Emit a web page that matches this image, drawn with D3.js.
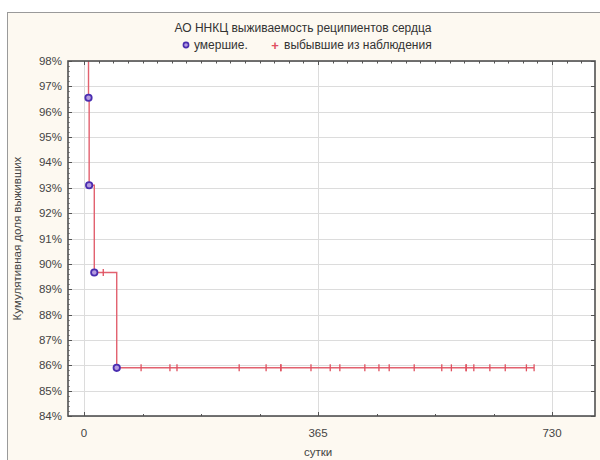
<!DOCTYPE html>
<html>
<head>
<meta charset="utf-8">
<script src="https://cdn.jsdelivr.net/npm/d3@7"></script>
<style>
  html, body { margin: 0; padding: 0; background: #ffffff; }
  svg { display: block; }
  text { font-family: "Liberation Sans", Arial, sans-serif; }
</style>
</head>
<body>
<script>
// Kaplan–Meier survival of heart transplant recipients
const deathDays = [7, 8, 16, 51];
const deathSurvival = [96.55, 93.10, 89.66, 85.9];
const censoredDays = [30, 89, 134, 145, 242, 284, 307, 307, 354, 384, 399, 438,
  460, 476, 515, 558, 573, 596, 596, 608, 633, 657, 690, 702];
const xTicks = [0, 365, 730];
const yTicks = [84, 85, 86, 87, 88, 89, 90, 91, 92, 93, 94, 95, 96, 97, 98];

const title = "АО ННКЦ выживаемость реципиентов сердца";
const legendDead = "умершие.";
const legendCensored = "выбывшие из наблюдения";
const xTitle = "сутки";
const yTitle = "Кумулятивная доля выживших";

const W = 600, H = 460;
const plot = { left: 68, right: 595, top: 61, bottom: 416 };

const svg = d3.select("body").append("svg").attr("width", W).attr("height", H);

// outer panel
svg.append("rect").attr("x", 7.5).attr("y", 12.5).attr("width", W).attr("height", H)
  .attr("fill", "#fdf9f1").attr("stroke", "#9a9a9a").attr("stroke-width", 1);

const x = d3.scaleLinear().domain([-25, 797]).range([plot.left, plot.right]);
const y = d3.scaleLinear().domain([84, 98]).range([plot.bottom, plot.top]);

svg.append("rect").attr("x", plot.left).attr("y", plot.top)
  .attr("width", plot.right - plot.left).attr("height", plot.bottom - plot.top)
  .attr("fill", "#ffffff");

// grid
const grid = svg.append("g").attr("stroke", "#dcdcdc").attr("stroke-width", 1);
grid.selectAll("line.h").data(yTicks).join("line")
  .attr("x1", plot.left).attr("x2", plot.right)
  .attr("y1", d => Math.round(y(d)) + 0.5).attr("y2", d => Math.round(y(d)) + 0.5);
grid.selectAll("line.v").data(xTicks).join("line")
  .attr("y1", plot.top).attr("y2", plot.bottom)
  .attr("x1", d => Math.round(x(d)) + 0.5).attr("x2", d => Math.round(x(d)) + 0.5);

// step curve built from events
const events = deathDays.map((d, i) => ({ t: d, s: deathSurvival[i] }));
function survAt(t) {
  let s = 100;
  events.forEach(e => { if (e.t <= t) s = e.s; });
  return s;
}
const lastDay = d3.max(censoredDays);
const stepPts = [{ t: 0, s: 100 }, ...events, { t: lastDay, s: survAt(lastDay) }];

svg.append("clipPath").attr("id", "clip").append("rect")
  .attr("x", plot.left).attr("y", plot.top)
  .attr("width", plot.right - plot.left).attr("height", plot.bottom - plot.top);

const g = svg.append("g").attr("clip-path", "url(#clip)");
const line = d3.line().x(d => x(d.t)).y(d => y(d.s)).curve(d3.curveStepAfter);
g.append("path").datum(stepPts).attr("d", line)
  .attr("fill", "none").attr("stroke", "#e2616f").attr("stroke-width", 1.4);

// censored marks
g.selectAll("line.cens").data(censoredDays).join("line")
  .attr("x1", d => x(d)).attr("x2", d => x(d))
  .attr("y1", d => y(survAt(d)) - 3.5).attr("y2", d => y(survAt(d)) + 3.5)
  .attr("stroke", "#e0505f").attr("stroke-width", 1.3);

// deaths
g.selectAll("circle.death").data(events).join("circle")
  .attr("cx", d => x(d.t)).attr("cy", d => y(d.s)).attr("r", 3.2)
  .attr("fill", "#b49be0").attr("stroke", "#4a2db0").attr("stroke-width", 1.8);

// axes
const axG = svg.append("g").attr("stroke", "#555").attr("stroke-width", 1);
// inward ticks on left / right
yTicks.forEach(v => {
  const yy = Math.round(y(v)) + 0.5;
  axG.append("line").attr("x1", plot.left).attr("x2", plot.left + 4).attr("y1", yy).attr("y2", yy);
  axG.append("line").attr("x1", plot.right - 4).attr("x2", plot.right).attr("y1", yy).attr("y2", yy);
});
d3.range(84, 98.01, 0.2).forEach(v => {
  const yy = Math.round(y(v)) + 0.5;
  axG.append("line").attr("x1", plot.left).attr("x2", plot.left + 2).attr("y1", yy).attr("y2", yy)
    .attr("stroke-width", 0.6);
});
// bottom ticks
d3.range(0, 797, 365 / 4).forEach((v, i) => {
  const xx = Math.round(x(v)) + 0.5;
  axG.append("line").attr("x1", xx).attr("x2", xx)
    .attr("y1", plot.bottom).attr("y2", plot.bottom - (i % 4 === 0 ? 4 : 2));
});
// top ticks
d3.range(0, 797, 365 / 16).forEach((v, i) => {
  const xx = Math.round(x(v)) + 0.5;
  axG.append("line").attr("x1", xx).attr("x2", xx)
    .attr("y1", plot.top).attr("y2", plot.top + (i % 16 === 0 ? 4 : 2.5));
});

svg.append("rect").attr("x", plot.left).attr("y", plot.top)
  .attr("width", plot.right - plot.left).attr("height", plot.bottom - plot.top)
  .attr("fill", "none").attr("stroke", "#505050").attr("stroke-width", 1.6);

// tick labels
svg.append("g").selectAll("text").data(yTicks).join("text")
  .attr("x", plot.left - 6).attr("y", d => y(d)).attr("dy", "0.35em")
  .attr("text-anchor", "end").attr("font-size", 11.5).attr("fill", "#444")
  .text(d => d + "%");
svg.append("g").selectAll("text").data(xTicks).join("text")
  .attr("x", d => x(d)).attr("y", 437)
  .attr("text-anchor", "middle").attr("font-size", 11.5).attr("fill", "#444")
  .text(d => d);

// titles
svg.append("text").attr("x", x(365)).attr("y", 456).attr("text-anchor", "middle")
  .attr("font-size", 11.5).attr("fill", "#444").text(xTitle);
svg.append("text").attr("transform", `translate(21,${(plot.top + plot.bottom) / 2}) rotate(-90)`)
  .attr("text-anchor", "middle").attr("font-size", 11.5).attr("fill", "#444").text(yTitle);
svg.append("text").attr("x", 303).attr("y", 32).attr("text-anchor", "middle")
  .attr("font-size", 12).attr("fill", "#333").text(title);

// legend
const lg = svg.append("g");
lg.append("circle").attr("cx", 186).attr("cy", 45).attr("r", 2.6)
  .attr("fill", "#b49be0").attr("stroke", "#4a2db0").attr("stroke-width", 1.6);
lg.append("text").attr("x", 194).attr("y", 49).attr("font-size", 12).attr("fill", "#333").text(legendDead);
lg.append("text").attr("x", 275).attr("y", 49.5).attr("text-anchor", "middle")
  .attr("font-size", 13).attr("font-weight", "bold").attr("fill", "#e0505f").text("+");
lg.append("text").attr("x", 284).attr("y", 49).attr("font-size", 12).attr("fill", "#333").text(legendCensored);
</script>
</body>
</html>
